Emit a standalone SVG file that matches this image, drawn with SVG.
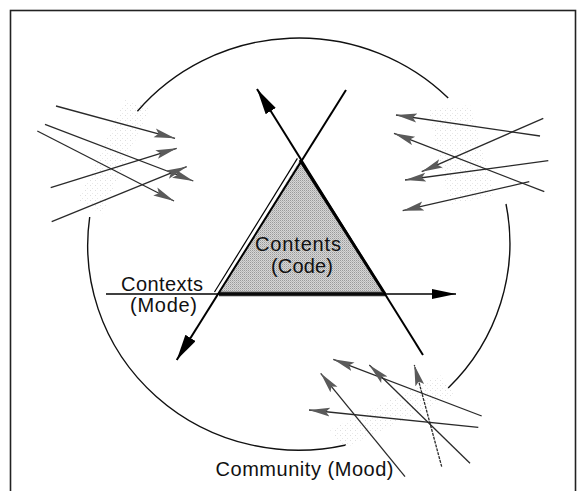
<svg xmlns="http://www.w3.org/2000/svg" width="577" height="491" viewBox="0 0 577 491">
<style>
.thin{stroke:#2a2a2a;stroke-width:1.3;fill:none;marker-end:url(#gh)}
.big{stroke:#000;stroke-width:2;fill:none}
.arc{stroke:#111;stroke-width:1.4;fill:none}
.lbl{font-family:"Liberation Sans",Arial,sans-serif;font-size:20px;fill:#111}
.speck{fill:url(#dots);stroke:none;opacity:0.6}
</style>
<defs>
<pattern id="tri" width="2" height="2" patternUnits="userSpaceOnUse">
<rect width="2" height="2" fill="#d6d6d6"/>
<rect width="1" height="1" fill="#9a9a9a"/>
<rect x="1" y="1" width="1" height="1" fill="#b8b8b8"/>
</pattern>
<pattern id="dots" width="5" height="5" patternUnits="userSpaceOnUse">
<rect x="0" y="0" width="1" height="1" fill="#c8c8c8"/>
<rect x="2" y="3" width="1" height="1" fill="#d8d8d8"/>
</pattern>
<marker id="gh" markerUnits="userSpaceOnUse" markerWidth="24" markerHeight="12" refX="21" refY="5" orient="auto">
<path d="M0,0.5 L21,5 L0,9.5 L4,5 Z" fill="#5a5a5a"/>
</marker>
<marker id="bh" markerUnits="userSpaceOnUse" markerWidth="28" markerHeight="14" refX="26" refY="6" orient="auto">
<path d="M0,0 L26,6 L0,12 Z" fill="#000"/>
</marker>
<marker id="hh" markerUnits="userSpaceOnUse" markerWidth="26" markerHeight="12" refX="24" refY="5" orient="auto">
<path d="M0,0 L24,5 L0,10 Z" fill="#000"/>
</marker>
</defs>
<rect x="0" y="0" width="577" height="491" fill="#fff"/>
<rect id="frame" x="10.5" y="10.5" width="565" height="495" fill="none" stroke="#222" stroke-width="1.6"/>

<g id="community-circle">
<path class="arc" d="M137.4,111.2 A211,205 0 0 1 448.2,98"/>
<path class="arc" d="M89.7,217 A211,205 0 0 0 346,445"/>
<path class="arc" d="M506,204 A211,205 0 0 1 448.2,388"/>
</g>

<g id="speckles">
<polygon class="speck" points="78,200 125,100 150,108 102,214"/>
<polygon class="speck" points="428,110 470,105 495,195 450,205"/>
<polygon class="speck" points="330,430 440,375 455,395 345,448"/>
</g>

<g id="triangle">
<polygon points="300,160 385,293 219,293" fill="url(#tri)"/>
<line x1="297.4" y1="158.4" x2="214.5" y2="292" stroke="#000" stroke-width="1.2"/>
<line x1="300" y1="160" x2="385" y2="294" stroke="#000" stroke-width="3"/>
<line x1="219" y1="294" x2="385" y2="294" stroke="#2b2b2b" stroke-width="4.5"/>
</g>

<g id="connectors">
<line x1="106" y1="294" x2="456" y2="294" stroke="#000" stroke-width="1.5" marker-end="url(#hh)"/>
<line class="big" x1="423" y1="355" x2="257" y2="89" marker-end="url(#bh)"/>
<line class="big" x1="346" y1="90" x2="176.7" y2="360" marker-end="url(#bh)"/>
<line class="thin" x1="56" y1="106" x2="175" y2="138.3"/>
<line class="thin" x1="45" y1="124.3" x2="193.3" y2="181"/>
<line class="thin" x1="37.3" y1="131" x2="174" y2="201"/>
<line class="thin" x1="50.7" y1="187.7" x2="176.7" y2="148.3"/>
<line class="thin" x1="51.7" y1="221.7" x2="186.7" y2="166.7"/>
<line class="thin" x1="540" y1="136" x2="396" y2="115"/>
<line class="thin" x1="544.3" y1="191.7" x2="394" y2="133.3"/>
<line class="thin" x1="543.3" y1="118.3" x2="421.7" y2="171.7"/>
<line class="thin" x1="548.3" y1="160.7" x2="405" y2="180"/>
<line class="thin" x1="529.3" y1="181.7" x2="402.7" y2="210.7"/>
<line class="thin" x1="481.7" y1="416" x2="333.3" y2="359.3"/>
<line class="thin" x1="470" y1="463.3" x2="369.3" y2="365"/>
<line class="thin" x1="441.7" y1="466.7" x2="414.3" y2="365" stroke-dasharray="3 1"/>
<line class="thin" x1="478.3" y1="427.3" x2="309" y2="410"/>
<line class="thin" x1="405" y1="476.7" x2="320.7" y2="373.3"/>
</g>

<g id="labels">
<text class="lbl" x="255" y="251" textLength="86" lengthAdjust="spacing">Contents</text>
<text class="lbl" x="271" y="272.5" textLength="62" lengthAdjust="spacing">(Code)</text>
<text class="lbl" x="121" y="290.5" textLength="82" lengthAdjust="spacing">Contexts</text>
<text class="lbl" x="130" y="312" textLength="67" lengthAdjust="spacing">(Mode)</text>
<text class="lbl" x="215.5" y="476" textLength="178" lengthAdjust="spacing">Community (Mood)</text>
</g>
</svg>
